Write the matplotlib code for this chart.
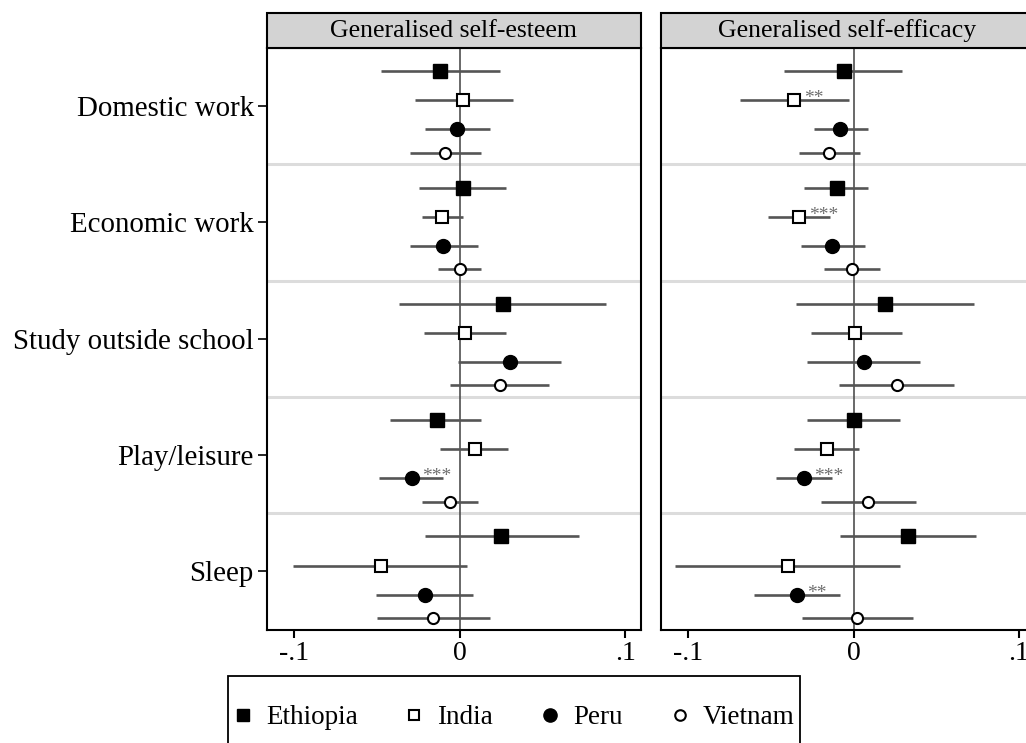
import numpy as np
import matplotlib
matplotlib.use('Agg')
import matplotlib.pyplot as plt
from matplotlib.patches import Rectangle
from matplotlib.lines import Line2D

plt.rcParams['font.family'] = ['Liberation Serif', 'DejaVu Serif']

activities = ['Domestic work', 'Economic work', 'Study outside school',
              'Play/leisure', 'Sleep']
countries = ['Ethiopia', 'India', 'Peru', 'Vietnam']

# Generalised self-esteem: one row per country, one column per activity
esteem_coef = [[-0.012, 0.002, 0.026, -0.014, 0.025],
               [0.002, -0.011, 0.003, 0.009, -0.048],
               [-0.002, -0.010, 0.030, -0.029, -0.021],
               [-0.009, 0.000, 0.024, -0.006, -0.016]]
esteem_lo = [[-0.048, -0.025, -0.037, -0.042, -0.021],
             [-0.027, -0.023, -0.022, -0.012, -0.101],
             [-0.021, -0.030, -0.001, -0.049, -0.051],
             [-0.030, -0.013, -0.006, -0.023, -0.050]]
esteem_hi = [[0.024, 0.028, 0.088, 0.013, 0.072],
             [0.032, 0.002, 0.028, 0.029, 0.004],
             [0.018, 0.011, 0.061, -0.010, 0.008],
             [0.013, 0.013, 0.054, 0.011, 0.018]]
esteem_stars = [['', '', '', '', ''],
                ['', '', '', '', ''],
                ['', '', '', '***', ''],
                ['', '', '', '', '']]

# Generalised self-efficacy
efficacy_coef = [[-0.006, -0.010, 0.019, 0.000, 0.033],
                 [-0.036, -0.033, 0.001, -0.016, -0.040],
                 [-0.008, -0.013, 0.006, -0.030, -0.034],
                 [-0.015, -0.001, 0.026, 0.009, 0.002]]
efficacy_lo = [[-0.042, -0.030, -0.035, -0.028, -0.008],
               [-0.069, -0.052, -0.026, -0.036, -0.108],
               [-0.024, -0.032, -0.028, -0.047, -0.060],
               [-0.033, -0.018, -0.009, -0.020, -0.031]]
efficacy_hi = [[0.029, 0.009, 0.073, 0.028, 0.074],
               [-0.003, -0.014, 0.029, 0.003, 0.028],
               [0.009, 0.007, 0.040, -0.013, -0.008],
               [0.004, 0.016, 0.061, 0.038, 0.036]]
efficacy_stars = [['', '', '', '', ''],
                  ['**', '***', '', '', ''],
                  ['', '', '', '***', '**'],
                  ['', '', '', '', '']]

panels = [('Generalised self-esteem', esteem_coef, esteem_lo, esteem_hi, esteem_stars),
          ('Generalised self-efficacy', efficacy_coef, efficacy_lo, efficacy_hi, efficacy_stars)]

# marker styles per country
styles = [dict(marker='s', ms=9.5, mfc='black', mec='black', mew=1.0),
          dict(marker='s', ms=8.0, mfc='white', mec='black', mew=1.5),
          dict(marker='o', ms=10.0, mfc='black', mec='black', mew=1.0),
          dict(marker='o', ms=8.0, mfc='white', mec='black', mew=1.5)]
offsets = [-0.30, -0.05, 0.20, 0.40]

W, H = 1026, 743
fig = plt.figure(figsize=(W / 100, H / 100), dpi=100)
bottom = 1 - 629.5 / H
height = (629.5 - 48) / H
ax1 = fig.add_axes([267 / W, bottom, (640.7 - 267) / W, height])
ax2 = fig.add_axes([661 / W, bottom, (1034 - 661) / W, height])

for ax, (title, coef, lo, hi, stars) in zip([ax1, ax2], panels):
    ax.set_xlim(-0.1166, 0.1092)
    ax.set_ylim(4.5, -0.5)
    for s in range(1, len(activities)):
        ax.axhline(s - 0.5, color='#dcdcdc', lw=2.2, zorder=1)
    ax.axvline(0, color='#404040', lw=1.1, zorder=2)
    for c in range(len(countries)):
        ys = np.arange(len(activities)) + offsets[c]
        ax.hlines(ys, lo[c], hi[c], color='#555555', lw=1.9, zorder=3)
        ax.plot(coef[c], ys, ls='none', zorder=4, **styles[c])
        for a in range(len(activities)):
            if stars[c][a]:
                ax.annotate(stars[c][a], (coef[c][a], ys[a]), xytext=(7, 1),
                            textcoords='offset points', ha='left', va='center',
                            fontsize=14, color='#6e6e6e', zorder=5)
    for sp in ax.spines.values():
        sp.set_linewidth(1.5)
    ax.set_xticks([-0.1, 0, 0.1])
    ax.set_xticklabels(['-.1', '0', '.1'])
    ax.tick_params(axis='x', labelsize=20, length=6, width=1.5, pad=2)
    # header strip
    ax.add_patch(Rectangle((0, 1), 1, 35 / 581.5, transform=ax.transAxes,
                           facecolor='#d3d3d3', edgecolor='black', lw=1.5,
                           clip_on=False, zorder=10))
    ax.text(0.5, 1 + 17.5 / 581.5, title, transform=ax.transAxes,
            ha='center', va='center', fontsize=18.5, zorder=11)

ax1.set_yticks(range(len(activities)))
ax1.set_yticklabels(activities)
ax1.tick_params(axis='y', labelsize=20.8, length=6.5, width=1.2, pad=3)
ax2.set_yticks([])

# legend box runs off the bottom edge, as in the original
fig.patches.append(Rectangle((228 / W, -0.05), (800 - 228) / W, 0.05 + 1 - 676 / H,
                             transform=fig.transFigure, facecolor='white',
                             edgecolor='black', lw=1.3))
handles = [Line2D([], [], ls='none', **st) for st in styles]
leg = fig.legend(handles, countries, ncol=4, loc='center left',
                 bbox_to_anchor=(232 / W, 1 - 718 / H), borderaxespad=0,
                 frameon=False, fontsize=19.5, markerscale=0.95,
                 handlelength=0.8, handletextpad=0.45, columnspacing=1.7,
                 borderpad=0)

fig.savefig('out.png', dpi=100)
